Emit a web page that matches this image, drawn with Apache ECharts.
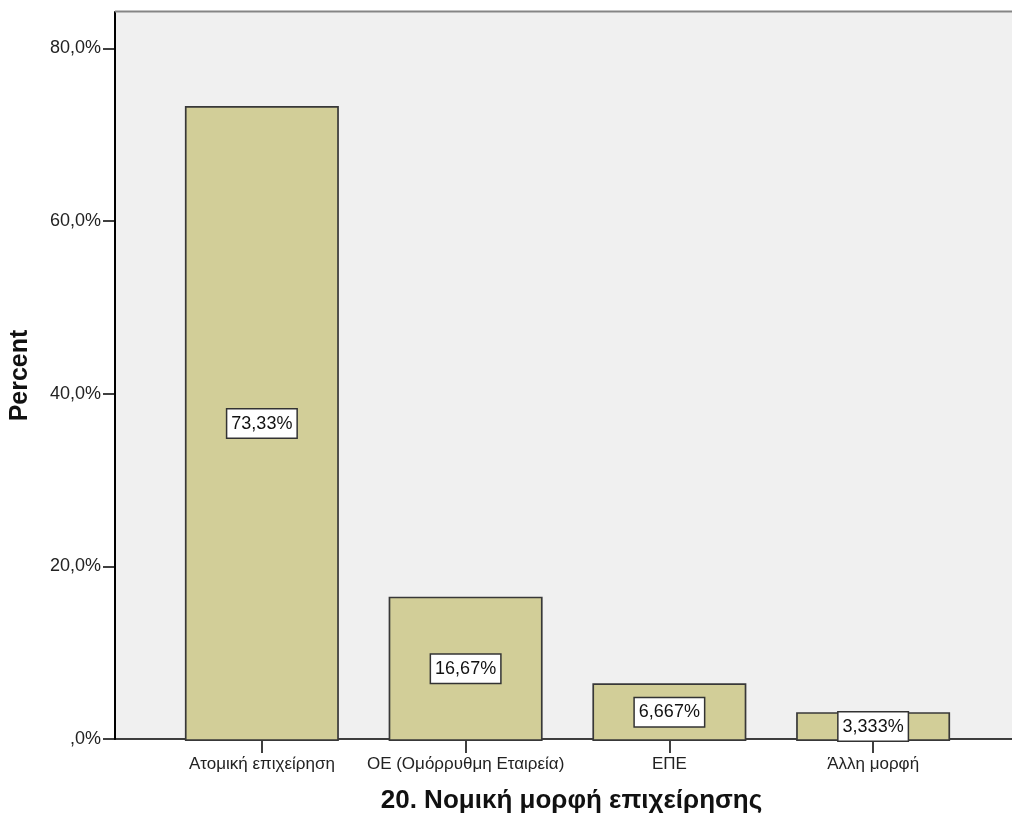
<!DOCTYPE html>
<html>
<head>
<meta charset="utf-8">
<script src="https://cdn.jsdelivr.net/npm/echarts@6/dist/echarts.min.js"></script>
<style>
html,body{margin:0;padding:0;background:#fff;}
#chart{width:1012px;height:819px;}
</style>
</head>
<body>
<div id="chart"></div>
<script>
var categories = ['Ατομική επιχείρηση', 'ΟΕ (Ομόρρυθμη Εταιρεία)', 'ΕΠΕ', 'Άλλη μορφή'];
var percents = [73.33, 16.67, 6.667, 3.333];
var yTicks = [0, 20, 40, 60, 80];
var xTitle = '20. Νομική μορφή επιχείρησης';
var yTitle = 'Percent';

var FONT = '"Liberation Sans", Arial, sans-serif';
var Y_MAX = 84.2;

function fmtTick(v) {
  var s = v.toFixed(1).replace('.', ',');
  if (s.indexOf('0,') === 0) s = s.substring(1);
  return s + '%';
}
function fmtLabel(v) {
  return v.toPrecision(4).replace('.', ',') + '%';
}

var chart = echarts.init(document.getElementById('chart'), null, {renderer: 'canvas'});
chart.setOption({
  animation: false,
  backgroundColor: '#ffffff',
  grid: [
    {left: 115, right: 0, top: 12, bottom: 78, show: true, backgroundColor: '#f0f0f0', borderWidth: 0, containLabel: false},
    {left: 160, right: 37, top: 12, bottom: 78, containLabel: false}
  ],
  xAxis: [
    {
      gridIndex: 0, type: 'value', min: 0, max: 1,
      axisLine: {show: true, onZero: false, lineStyle: {color: '#000', width: 1.5}},
      axisTick: {show: false}, axisLabel: {show: false}, splitLine: {show: false},
      name: xTitle, nameLocation: 'middle', nameGap: 49,
      nameTextStyle: {fontFamily: FONT, fontWeight: 'bold', fontSize: 26, color: '#111', padding: [0, 0, 0, 16]}
    },
    {
      gridIndex: 1, type: 'category', data: categories,
      axisLine: {show: false},
      axisTick: {show: true, alignWithLabel: true, length: 12, lineStyle: {color: '#000', width: 1.5}},
      axisLabel: {fontFamily: FONT, fontSize: 17, color: '#222', margin: 15, interval: 0},
      splitLine: {show: false}
    }
  ],
  yAxis: [
    {
      gridIndex: 0, type: 'value', min: 0, max: Y_MAX, interval: 20,
      axisLine: {show: true, lineStyle: {color: '#000', width: 2}},
      axisTick: {show: true, length: 12, customValues: yTicks, lineStyle: {color: '#000', width: 1.5}},
      axisLabel: {fontFamily: FONT, fontSize: 18, color: '#222', margin: 14, customValues: yTicks,
        padding: [6, 0, 0, 0], formatter: function (v) { return fmtTick(v); }},
      splitLine: {show: false},
      name: yTitle, nameLocation: 'middle', nameGap: 82,
      nameTextStyle: {fontFamily: FONT, fontWeight: 'bold', fontSize: 25, color: '#111'}
    },
    {
      gridIndex: 1, type: 'value', min: 0, max: Y_MAX, show: false
    }
  ],
  graphic: [
    {type: 'line', shape: {x1: 115, y1: 11.5, x2: 1012, y2: 11.5}, style: {stroke: '#858585', lineWidth: 2}, z: 100}
  ],
  series: [{
    type: 'bar', xAxisIndex: 1, yAxisIndex: 1,
    data: percents, barWidth: 154,
    itemStyle: {color: '#d2ce98', borderColor: '#383838', borderWidth: 1.7},
    label: {
      show: true, position: 'inside', formatter: function (p) { return fmtLabel(p.value); },
      fontFamily: FONT, fontSize: 18, color: '#111',
      backgroundColor: '#ffffff', borderColor: '#333', borderWidth: 1.5,
      padding: [6, 4, 4, 4]
    }
  }]
});
</script>
</body>
</html>
